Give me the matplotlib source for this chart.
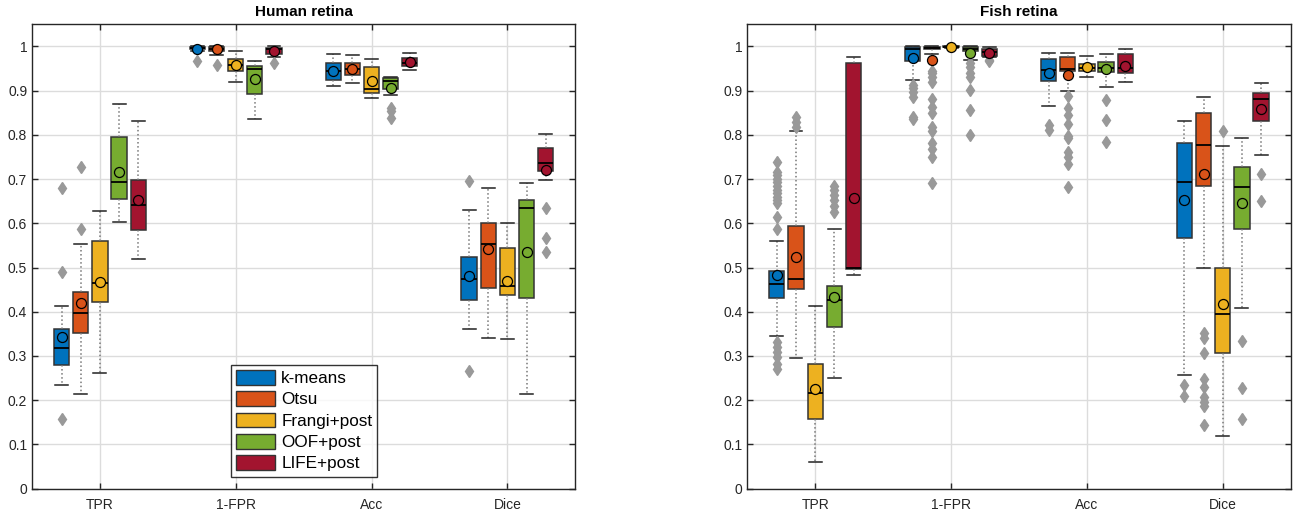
import numpy as np
import matplotlib
matplotlib.use('Agg')
import matplotlib.pyplot as plt
from matplotlib.patches import Patch

plt.rcParams['font.family'] = ['Liberation Sans', 'DejaVu Sans']

metrics = ['TPR', '1-FPR', 'Acc', 'Dice']
methods = ['k-means', 'Otsu', 'Frangi+post', 'OOF+post', 'LIFE+post']
colors = ['#0072BD', '#D95319', '#EDB120', '#77AC30', '#A2142F']

# Human retina: rows = methods, columns = metrics (TPR, 1-FPR, Acc, Dice)
human_whislo = [[0.235, 0.990, 0.910, 0.360],
                [0.214, 0.981, 0.918, 0.340],
                [0.261, 0.919, 0.884, 0.339],
                [0.602, 0.836, 0.890, 0.214],
                [0.519, 0.975, 0.946, 0.699]]
human_q1 = [[0.280, 0.993, 0.925, 0.427],
            [0.351, 0.990, 0.935, 0.454],
            [0.421, 0.944, 0.895, 0.438],
            [0.654, 0.893, 0.903, 0.430],
            [0.585, 0.983, 0.956, 0.718]]
human_med = [[0.319, 0.997, 0.944, 0.474],
             [0.397, 0.994, 0.948, 0.554],
             [0.466, 0.958, 0.904, 0.459],
             [0.694, 0.948, 0.922, 0.634],
             [0.641, 0.993, 0.963, 0.737]]
human_q3 = [[0.361, 0.999, 0.963, 0.524],
            [0.444, 0.998, 0.963, 0.601],
            [0.561, 0.972, 0.953, 0.545],
            [0.794, 0.956, 0.928, 0.652],
            [0.698, 0.997, 0.974, 0.770]]
human_whishi = [[0.413, 1.000, 0.983, 0.630],
                [0.554, 1.000, 0.980, 0.679],
                [0.628, 0.989, 0.971, 0.600],
                [0.870, 0.967, 0.931, 0.692],
                [0.831, 1.000, 0.985, 0.802]]
human_mean = [[0.344, 0.995, 0.944, 0.481],
              [0.419, 0.993, 0.948, 0.541],
              [0.467, 0.959, 0.921, 0.470],
              [0.716, 0.926, 0.907, 0.536],
              [0.652, 0.989, 0.965, 0.720]]
human_fliers = [[[0.679, 0.491, 0.157], [0.968], [], [0.695, 0.266]],
                [[0.728, 0.588], [0.957], [], []],
                [[], [], [], []],
                [[], [], [0.861, 0.855, 0.839], []],
                [[], [0.962], [], [0.634, 0.567, 0.534]]]

# Fish retina
fish_whislo = [[0.346, 0.924, 0.865, 0.257],
               [0.295, 0.983, 0.900, 0.500],
               [0.060, 0.996, 0.931, 0.120],
               [0.251, 0.969, 0.909, 0.408],
               [0.482, 0.975, 0.920, 0.754]]
fish_q1 = [[0.432, 0.967, 0.922, 0.567],
           [0.451, 0.993, 0.944, 0.685],
           [0.157, 0.998, 0.944, 0.307],
           [0.366, 0.990, 0.941, 0.588],
           [0.496, 0.979, 0.939, 0.831]]
fish_med = [[0.462, 0.993, 0.946, 0.693],
            [0.475, 0.997, 0.948, 0.777],
            [0.217, 0.999, 0.952, 0.394],
            [0.426, 0.995, 0.950, 0.682],
            [0.500, 0.987, 0.952, 0.880]]
fish_q3 = [[0.493, 0.999, 0.971, 0.781],
           [0.595, 0.999, 0.977, 0.849],
           [0.281, 1.000, 0.960, 0.499],
           [0.459, 0.999, 0.965, 0.728],
           [0.962, 0.993, 0.983, 0.895]]
fish_whishi = [[0.561, 1.000, 0.984, 0.831],
               [0.808, 1.000, 0.985, 0.886],
               [0.414, 1.000, 0.978, 0.775],
               [0.588, 1.000, 0.983, 0.792],
               [0.975, 0.998, 0.994, 0.918]]
fish_mean = [[0.483, 0.974, 0.939, 0.653],
             [0.524, 0.969, 0.935, 0.711],
             [0.225, 0.999, 0.953, 0.418],
             [0.434, 0.986, 0.948, 0.645],
             [0.658, 0.985, 0.956, 0.859]]
fish_fliers = [[[0.738, 0.717, 0.710, 0.700, 0.694, 0.685, 0.675, 0.668, 0.660, 0.652,
                 0.645, 0.615, 0.587, 0.332, 0.320, 0.310, 0.298, 0.283, 0.270],
                [0.913, 0.905, 0.897, 0.885, 0.840, 0.835],
                [0.822, 0.811],
                [0.234, 0.210]],
               [[0.841, 0.830, 0.818],
                [0.945, 0.940, 0.930, 0.920, 0.882, 0.864, 0.849, 0.818, 0.809,
                 0.781, 0.767, 0.750, 0.690],
                [0.888, 0.860, 0.845, 0.825, 0.798, 0.792, 0.762, 0.750, 0.735, 0.683],
                [0.353, 0.340, 0.306, 0.248, 0.229, 0.207, 0.197, 0.188, 0.144]],
               [[], [], [], [0.809]],
               [[0.684, 0.675, 0.664, 0.652, 0.640, 0.625],
                [0.962, 0.954, 0.940, 0.931, 0.901, 0.856, 0.800],
                [0.879, 0.833, 0.783],
                [0.334, 0.227, 0.157]],
               [[], [0.970, 0.966], [], [0.711, 0.651]]]


def draw_panel(ax, title, whislo, q1, med, q3, whishi, mean, fliers):
    base = np.arange(1, len(metrics) + 1)
    for i, col in enumerate(colors):
        stats = []
        for j in range(len(metrics)):
            stats.append(dict(whislo=whislo[i][j], q1=q1[i][j], med=med[i][j],
                              q3=q3[i][j], whishi=whishi[i][j], mean=mean[i][j],
                              fliers=fliers[i][j]))
        pos = base + (i - 2) * 0.141
        ax.bxp(stats, positions=pos, widths=0.112, capwidths=0.095,
               patch_artist=True, showmeans=True, manage_ticks=False,
               boxprops=dict(facecolor=col, edgecolor='#333333', linewidth=1.1),
               medianprops=dict(color='black', linewidth=1.3),
               whiskerprops=dict(color='#777777', linestyle=':', linewidth=1.1),
               capprops=dict(color='#222222', linewidth=1.1),
               meanprops=dict(marker='o', markerfacecolor=col,
                              markeredgecolor='black', markersize=7.2,
                              markeredgewidth=0.9),
               flierprops=dict(marker='d', markerfacecolor='#999999',
                               markeredgecolor='#999999', markersize=6))
    ax.set_xlim(0.5, 4.5)
    ax.set_ylim(0, 1.05)
    ax.set_xticks(base)
    ax.set_xticklabels(metrics)
    ax.set_yticks(np.arange(0, 1.01, 0.1))
    ax.set_yticklabels(['0', '0.1', '0.2', '0.3', '0.4', '0.5', '0.6', '0.7',
                        '0.8', '0.9', '1'])
    ax.grid(True, color='#dcdcdc', linewidth=1)
    ax.set_axisbelow(True)
    ax.tick_params(direction='in', top=True, right=True, length=4,
                   labelsize=10, colors='#262626', width=1)
    ax.tick_params(axis='x', pad=7)
    for s in ax.spines.values():
        s.set_color('#262626')
        s.set_linewidth(1)
    ax.set_title(title, fontsize=11, fontweight='bold', pad=6)


fig = plt.figure(figsize=(12.96, 5.13), dpi=100)
ax1 = fig.add_axes([0.0247, 0.0474, 0.4192, 0.9053])
ax2 = fig.add_axes([0.5766, 0.0474, 0.4193, 0.9053])

draw_panel(ax1, 'Human retina', human_whislo, human_q1, human_med, human_q3,
           human_whishi, human_mean, human_fliers)
draw_panel(ax2, 'Fish retina', fish_whislo, fish_q1, fish_med, fish_q3,
           fish_whishi, fish_mean, fish_fliers)

handles = [Patch(facecolor=c, edgecolor='#333333', label=m) for c, m in zip(colors, methods)]
leg = ax1.legend(handles=handles, loc='lower left', bbox_to_anchor=(0.366, 0.026),
                 borderaxespad=0, fontsize=12.3, frameon=True, fancybox=False,
                 edgecolor='black', handlelength=2.3, handleheight=0.95,
                 handletextpad=0.35, labelspacing=0.3, borderpad=0.3)
leg.get_frame().set_linewidth(1)

fig.savefig('out.png', dpi=100)
